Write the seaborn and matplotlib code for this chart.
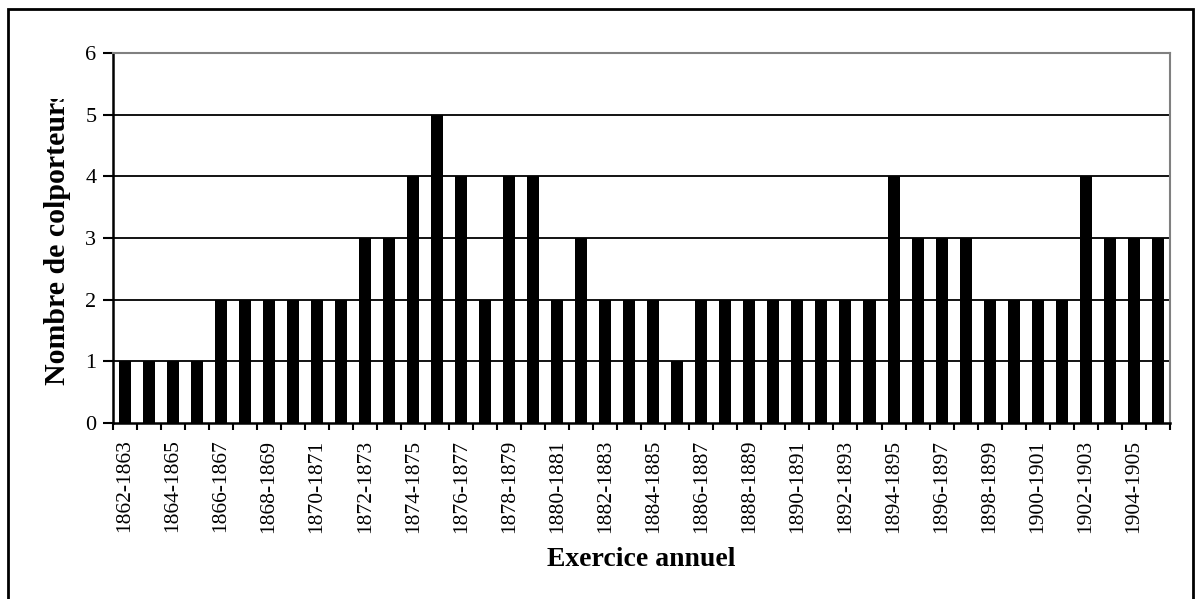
import matplotlib
matplotlib.use("Agg")
import matplotlib.pyplot as plt
import seaborn as sns
from matplotlib.patches import Rectangle
from matplotlib.transforms import Bbox

seasons = [
    "1862-1863", "1863-1864", "1864-1865", "1865-1866", "1866-1867", "1867-1868",
    "1868-1869", "1869-1870", "1870-1871", "1871-1872", "1872-1873", "1873-1874",
    "1874-1875", "1875-1876", "1876-1877", "1877-1878", "1878-1879", "1879-1880",
    "1880-1881", "1881-1882", "1882-1883", "1883-1884", "1884-1885", "1885-1886",
    "1886-1887", "1887-1888", "1888-1889", "1889-1890", "1890-1891", "1891-1892",
    "1892-1893", "1893-1894", "1894-1895", "1895-1896", "1896-1897", "1897-1898",
    "1898-1899", "1899-1900", "1900-1901", "1901-1902", "1902-1903", "1903-1904",
    "1904-1905", "1905-1906",
]
colporteurs = [
    1, 1, 1, 1, 2, 2, 2, 2, 2, 2, 3, 3, 4, 5, 4, 2, 4, 4, 2, 3, 2, 2,
    2, 1, 2, 2, 2, 2, 2, 2, 2, 2, 4, 3, 3, 3, 2, 2, 2, 2, 4, 3, 3, 3,
]
y_ticks = [0, 1, 2, 3, 4, 5, 6]

sns.set_style("white")
plt.rcParams["font.family"] = ["Liberation Serif", "DejaVu Serif"]
plt.rcParams["text.color"] = "black"
plt.rcParams["axes.labelcolor"] = "black"
plt.rcParams["xtick.color"] = "black"
plt.rcParams["ytick.color"] = "black"

fig = plt.figure(figsize=(11.96, 5.99), dpi=100)
ax = fig.add_axes([0.0945, 0.294, 0.8835, 0.6175])

# horizontal grid lines sit behind the bars
for level in y_ticks[1:-1]:
    ax.axhline(level, color="black", linewidth=1.3, zorder=0)

sns.barplot(x=seasons, y=colporteurs, color="black", saturation=1, width=0.5,
            linewidth=0, ax=ax, zorder=2)

n = len(seasons)
ax.set_xlim(-0.5, n - 0.5)
ax.set_ylim(0, 6)
ax.set_yticks(y_ticks)
ax.tick_params(axis="y", labelsize=16, length=7, width=1.5, direction="out",
               left=True, pad=5)

ax.set_xticks(range(0, n, 2))
ax.set_xticklabels(seasons[::2], rotation=90, fontsize=15.5)
ax.set_xticks([i - 0.5 for i in range(n + 1)], minor=True)
ax.tick_params(axis="x", which="major", length=0, pad=12)
ax.tick_params(axis="x", which="minor", length=5, width=1.5, direction="out",
               bottom=True)

for side in ["left", "bottom"]:
    ax.spines[side].set_color("black")
    ax.spines[side].set_linewidth(1.8)
for side in ["top", "right"]:
    ax.spines[side].set_visible(True)
    ax.spines[side].set_color("#808080")
    ax.spines[side].set_linewidth(1.5)

ax.set_xlabel("Exercice annuel", fontsize=20, fontweight="bold", labelpad=10)
ylab = ax.set_ylabel("Nombre de colporteurs", fontsize=21.5, fontweight="bold",
                     labelpad=10)
# the label is cut off at its top end, as in the original
ylab.set_clip_box(Bbox.from_extents(0, 0, 1196, 599 - 99))
ylab.set_clip_on(True)

border = Rectangle((0.0067, -0.05), 0.9905, 1.035, transform=fig.transFigure,
                   fill=False, edgecolor="black", linewidth=2.0)
fig.patches.append(border)

fig.savefig("out.png", dpi=100)
